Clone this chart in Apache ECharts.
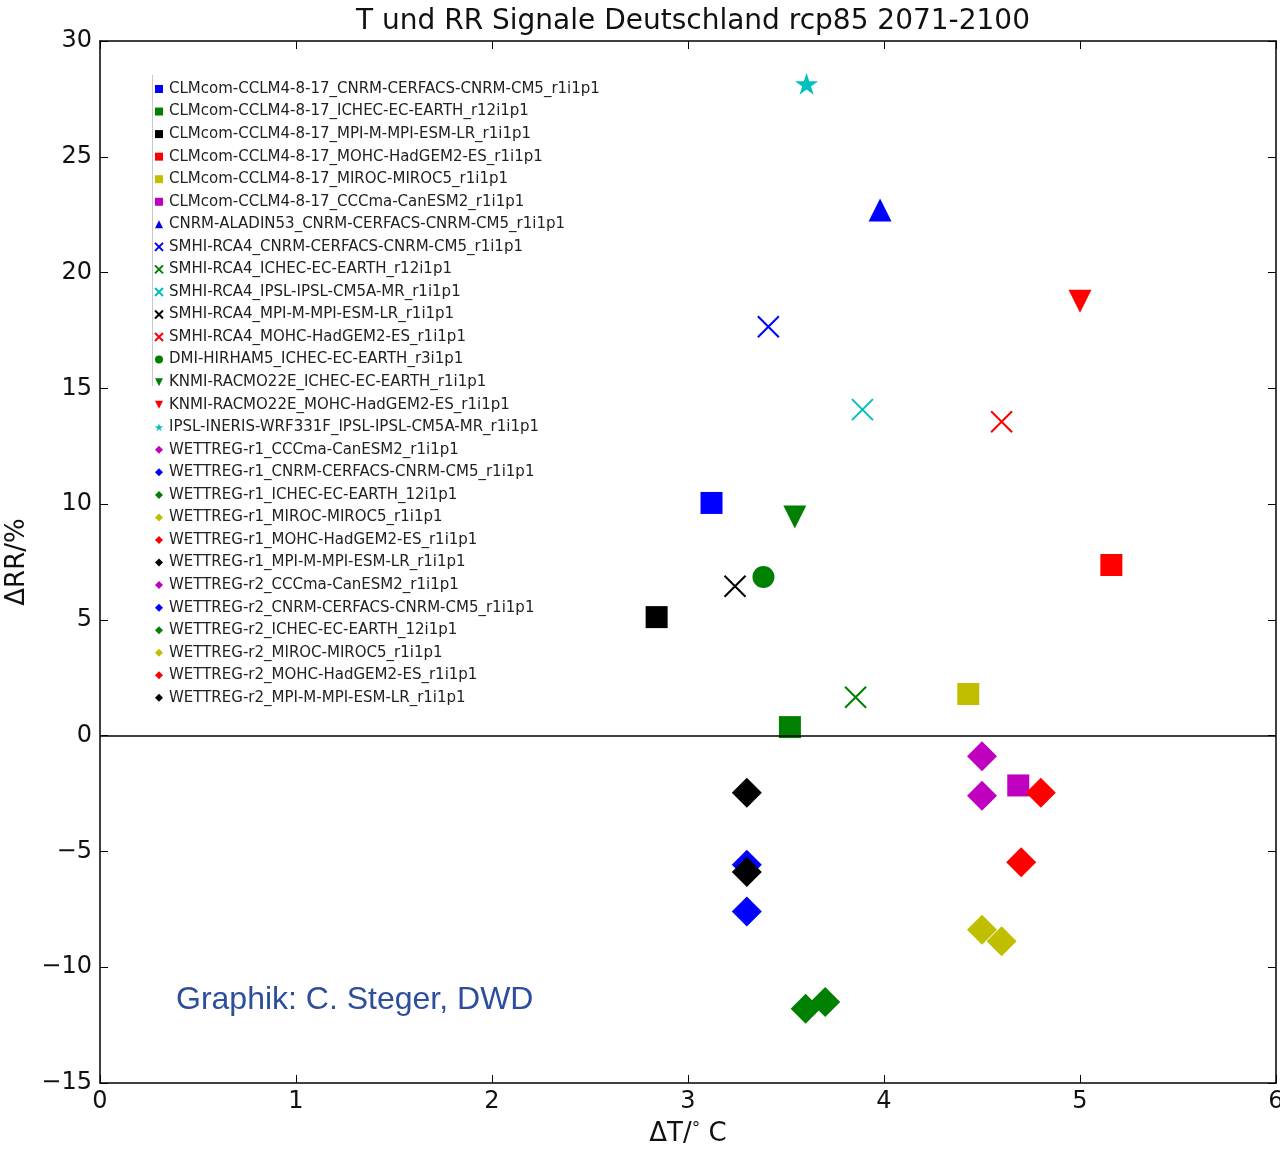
<!DOCTYPE html>
<html>
<head>
<meta charset="utf-8">
<title>T und RR Signale Deutschland rcp85 2071-2100</title>
<script src="https://cdn.jsdelivr.net/npm/echarts@6/dist/echarts.min.js"></script>
<style>
  html, body { margin: 0; padding: 0; background: #fff; }
  #chart { width: 1280px; height: 1153px; }
</style>
</head>
<body>
<div id="chart"></div>
<script>
// model runs, in legend order
const models = [
  'CLMcom-CCLM4-8-17_CNRM-CERFACS-CNRM-CM5_r1i1p1',
  'CLMcom-CCLM4-8-17_ICHEC-EC-EARTH_r12i1p1',
  'CLMcom-CCLM4-8-17_MPI-M-MPI-ESM-LR_r1i1p1',
  'CLMcom-CCLM4-8-17_MOHC-HadGEM2-ES_r1i1p1',
  'CLMcom-CCLM4-8-17_MIROC-MIROC5_r1i1p1',
  'CLMcom-CCLM4-8-17_CCCma-CanESM2_r1i1p1',
  'CNRM-ALADIN53_CNRM-CERFACS-CNRM-CM5_r1i1p1',
  'SMHI-RCA4_CNRM-CERFACS-CNRM-CM5_r1i1p1',
  'SMHI-RCA4_ICHEC-EC-EARTH_r12i1p1',
  'SMHI-RCA4_IPSL-IPSL-CM5A-MR_r1i1p1',
  'SMHI-RCA4_MPI-M-MPI-ESM-LR_r1i1p1',
  'SMHI-RCA4_MOHC-HadGEM2-ES_r1i1p1',
  'DMI-HIRHAM5_ICHEC-EC-EARTH_r3i1p1',
  'KNMI-RACMO22E_ICHEC-EC-EARTH_r1i1p1',
  'KNMI-RACMO22E_MOHC-HadGEM2-ES_r1i1p1',
  'IPSL-INERIS-WRF331F_IPSL-IPSL-CM5A-MR_r1i1p1',
  'WETTREG-r1_CCCma-CanESM2_r1i1p1',
  'WETTREG-r1_CNRM-CERFACS-CNRM-CM5_r1i1p1',
  'WETTREG-r1_ICHEC-EC-EARTH_12i1p1',
  'WETTREG-r1_MIROC-MIROC5_r1i1p1',
  'WETTREG-r1_MOHC-HadGEM2-ES_r1i1p1',
  'WETTREG-r1_MPI-M-MPI-ESM-LR_r1i1p1',
  'WETTREG-r2_CCCma-CanESM2_r1i1p1',
  'WETTREG-r2_CNRM-CERFACS-CNRM-CM5_r1i1p1',
  'WETTREG-r2_ICHEC-EC-EARTH_12i1p1',
  'WETTREG-r2_MIROC-MIROC5_r1i1p1',
  'WETTREG-r2_MOHC-HadGEM2-ES_r1i1p1',
  'WETTREG-r2_MPI-M-MPI-ESM-LR_r1i1p1'
];

// temperature change in °C
const deltaT = [
  3.12, 3.52, 2.84, 5.16, 4.43, 4.685,
  3.98,
  3.41, 3.855, 3.89, 3.24, 4.6,
  3.385,
  3.545, 5.0,
  3.605,
  4.5, 3.3, 3.6, 4.5, 4.8, 3.3,
  4.5, 3.3, 3.7, 4.6, 4.7, 3.3
];

// precipitation change in %
const deltaRR = [
  10.05, 0.37, 5.12, 7.37, 1.8, -2.15,
  22.7,
  17.66, 1.66, 14.08, 6.45, 13.56,
  6.85,
  9.44, 18.76,
  28.15,
  -0.89, -5.57, -11.79, -8.38, -2.47, -2.47,
  -2.59, -7.59, -11.5, -8.88, -5.47, -5.89
];

const xTicks = [0, 1, 2, 3, 4, 5, 6];
const yTicks = [-15, -10, -5, 0, 5, 10, 15, 20, 25, 30];

// marker styles (matplotlib classic colours)
const C = { b: '#0000ff', g: '#008000', k: '#000000', r: '#ff0000', y: '#bfbf00', m: '#bf00bf', c: '#00bfbf' };
const colors = [
  C.b, C.g, C.k, C.r, C.y, C.m,
  C.b,
  C.b, C.g, C.c, C.k, C.r,
  C.g,
  C.g, C.r,
  C.c,
  C.m, C.b, C.g, C.y, C.r, C.k,
  C.m, C.b, C.g, C.y, C.r, C.k
];
const shapes = [
  's', 's', 's', 's', 's', 's',
  '^',
  'x', 'x', 'x', 'x', 'x',
  'o',
  'v', 'v',
  '*',
  'D', 'D', 'D', 'D', 'D', 'D',
  'D', 'D', 'D', 'D', 'D', 'D'
];

const symbols = {
  's': { path: 'path://M0,0L10,0L10,10L0,10Z', size: 22 },
  '^': { path: 'path://M5,0L10,10L0,10Z', size: 23 },
  'v': { path: 'path://M0,0L10,0L5,10Z', size: 23 },
  'D': { path: 'path://M5,0L10,5L5,10L0,5Z', size: 30 },
  'o': { path: 'circle', size: 22 },
  'x': { path: 'path://M0,0L10,10M10,0L0,10', size: 21 },
  '*': { path: 'path://M100,0L122.45,69.1L195.1,69.1L136.3,111.8L158.8,180.9L100,138.2L41.2,180.9L63.7,111.8L4.9,69.1L77.55,69.1Z', size: 23 }
};

const font = 'DejaVu Sans';
const minus = v => String(v).replace('-', '\u2212');

const series = models.map(function (name, i) {
  const sym = symbols[shapes[i]];
  const s = {
    name: name,
    type: 'scatter',
    data: [[deltaT[i], deltaRR[i]]],
    symbol: sym.path,
    symbolSize: sym.size,
    symbolKeepAspect: true,
    itemStyle: { color: colors[i], opacity: 1 },
    emphasis: { disabled: true },
    animation: false
  };
  if (shapes[i] === 'x') {
    s.itemStyle = { color: 'rgba(0,0,0,0)', borderColor: colors[i], borderWidth: 2, opacity: 1 };
  }
  return s;
});

// zero line
series[0].markLine = {
  silent: true,
  symbol: 'none',
  animation: false,
  label: { show: false },
  lineStyle: { color: '#000', width: 1.5, type: 'solid' },
  data: [{ yAxis: 0 }]
};

const tickStyle = { show: true, inside: true, length: 8, lineStyle: { color: '#000', width: 1 } };
const lineStyle = { show: true, onZero: false, lineStyle: { color: '#000', width: 1.5 } };

const chart = echarts.init(document.querySelector('#chart'));
const option = {
  backgroundColor: '#fff',
  animation: false,
  title: {
    text: 'T und RR Signale Deutschland rcp85 2071-2100',
    left: 688,
    top: 3,
    textAlign: 'center',
    textStyle: { fontFamily: font, fontSize: 28, fontWeight: 'normal', color: '#111' }
  },
  legend: {
    orient: 'vertical',
    left: 149,
    top: 76,
    itemWidth: 10,
    itemHeight: 8,
    itemGap: 6.55,
    selectedMode: false,
    data: models,
    textStyle: { fontFamily: font, fontSize: 15, lineHeight: 16, color: '#222' }
  },
  grid: { left: 100, right: 4, top: 41, bottom: 70, outerBoundsMode: 'none', containLabel: false },
  xAxis: [
    {
      type: 'value',
      min: xTicks[0],
      max: xTicks[xTicks.length - 1],
      interval: 1,
      position: 'bottom',
      name: '{d|ΔT/}{s|°}{d| C}',
      nameLocation: 'middle',
      nameGap: 38,
      nameTextStyle: {
        rich: {
          d: { fontFamily: font, fontSize: 26, color: '#111' },
          s: { fontFamily: font, fontSize: 17, color: '#111', verticalAlign: 'top', padding: [0, 0, 10, 0] }
        }
      },
      axisLine: lineStyle,
      axisTick: tickStyle,
      splitLine: { show: false },
      axisLabel: { fontFamily: font, fontSize: 24, color: '#111', margin: 7, formatter: minus }
    },
    {
      type: 'value',
      min: xTicks[0],
      max: xTicks[xTicks.length - 1],
      interval: 1,
      position: 'top',
      axisLine: lineStyle,
      axisTick: tickStyle,
      splitLine: { show: false },
      axisLabel: { show: false }
    }
  ],
  yAxis: [
    {
      type: 'value',
      min: yTicks[0],
      max: yTicks[yTicks.length - 1],
      interval: 5,
      position: 'left',
      name: 'ΔRR/%',
      nameLocation: 'middle',
      nameGap: 70,
      nameTextStyle: { fontFamily: font, fontSize: 26, color: '#111' },
      axisLine: lineStyle,
      axisTick: tickStyle,
      splitLine: { show: false },
      axisLabel: { fontFamily: font, fontSize: 24, color: '#111', margin: 8, formatter: minus }
    },
    {
      type: 'value',
      min: yTicks[0],
      max: yTicks[yTicks.length - 1],
      interval: 5,
      position: 'right',
      axisLine: lineStyle,
      axisTick: tickStyle,
      splitLine: { show: false },
      axisLabel: { show: false }
    }
  ],
  graphic: [
    {
      type: 'text',
      left: 176,
      top: 984,
      style: { text: 'Graphik: C. Steger, DWD', fill: '#2c4e9c', font: '32px "Liberation Sans", Arial, sans-serif' }
    },
    {
      type: 'line',
      shape: { x1: 152.5, y1: 75, x2: 152.5, y2: 386 },
      style: { stroke: '#c8c8c8', lineWidth: 1 }
    }
  ],
  series: series
};
chart.setOption(option);
</script>
</body>
</html>
